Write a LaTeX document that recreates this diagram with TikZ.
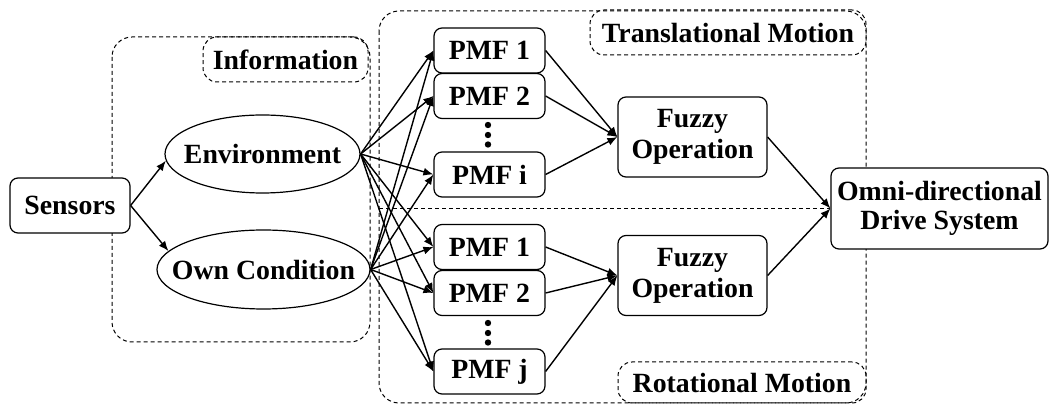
\documentclass[tikz,border=0pt]{standalone}
\usepackage{fontspec}
\setmainfont{Liberation Serif}
\usetikzlibrary{shapes.geometric,arrows.meta}
\begin{document}
\begin{tikzpicture}[x=0.5pt,y=-0.5pt,
  every node/.style={font=\fontsize{13.9}{15.5}\selectfont\bfseries, inner sep=0pt},
  rbox/.style={draw, line width=0.6pt, rounded corners=4pt, fill=white, align=center},
  pmf/.style={rbox, minimum width=55.5pt, minimum height=22.5pt},
  fuzzy/.style={rbox, minimum width=74.5pt, minimum height=40pt},
  oval/.style={draw, ellipse, line width=0.6pt, fill=white},
  dbox/.style={draw, dash pattern=on 2pt off 1.5pt, line width=0.5pt, rounded corners=10pt},
  dlabel/.style={draw, dash pattern=on 2pt off 1.5pt, line width=0.5pt, rounded corners=7pt},
  arr/.style={-{Latex[length=5pt,width=4pt]}, line width=0.7pt},
  dotmark/.style={circle, fill, minimum size=3.2pt}
]
\useasboundingbox (0,0) rectangle (1050,405);

% dashed group frames
\draw[dbox] (112,37) rectangle (370,342);
\draw[dbox] (379,11) rectangle (866,403);
\node[dlabel, minimum width=82.5pt, minimum height=22.5pt] (infolab) at (285.5,59.5) {Information};
\node[dlabel, minimum width=138pt, minimum height=22.5pt] (translab) at (728,32.5) {Translational Motion};
\node[dlabel, minimum width=124pt, minimum height=20.5pt] (rotlab) at (742,382.5) {Rotational Motion};

% nodes
\node[rbox, minimum width=60pt, minimum height=27.5pt] (sens) at (70,205.5) {Sensors};
\node[oval, minimum width=97.5pt, minimum height=39pt] (env) at (262.5,154) {};
\node (envt) at (env) {Environment};
\node[oval, minimum width=106.5pt, minimum height=39.5pt] (own) at (263.5,269.5) {};
\node (ownt) at (own) {Own Condition};

\node[pmf] (t1) at (489.5,50.5) {PMF 1};
\node[pmf] (t2) at (489.5,96) {PMF 2};
\node[pmf] (ti) at (489.5,174.5) {PMF i};
\node[pmf] (r1) at (489.5,247) {PMF 1};
\node[pmf] (r2) at (489.5,293) {PMF 2};
\node[pmf] (rj) at (489.5,371.5) {PMF j};

\node[dotmark] (td1) at (488,125) {};
\node[dotmark] (td2) at (488,135) {};
\node[dotmark] (td3) at (488,144.5) {};
\node[dotmark] (rd1) at (488,323) {};
\node[dotmark] (rd2) at (488,333) {};
\node[dotmark] (rd3) at (488,342.5) {};

\node[fuzzy] (ft) at (692.5,137) {Fuzzy\\Operation};
\node[fuzzy] (fr) at (692.5,275.5) {Fuzzy\\Operation};

\node[rbox, minimum width=108.5pt, minimum height=40.5pt] (omni) at (939.5,208.5) {Omni-directional\\[-1pt]Drive System};

% separator
\coordinate (sepL) at (379,208.5);
\draw[dash pattern=on 2pt off 1.5pt, line width=0.5pt] (sepL) -- (omni.west);

% connectors
\draw[arr] (sens.east) -- (env.184);
\draw[arr] (sens.east) -- (own.169);
\foreach \p in {t1,t2,ti,r1,r2,rj} {
  \draw[arr] (env.east) -- (\p.west);
  \draw[arr] (own.east) -- (\p.west);
}
\foreach \p in {t1,t2,ti} \draw[arr] (\p.east) -- (ft.west);
\foreach \p in {r1,r2,rj} \draw[arr] (\p.east) -- (fr.west);
\draw[arr] (ft.east) -- (omni.west);
\draw[arr] (fr.east) -- (omni.west);
\end{tikzpicture}
\end{document}
